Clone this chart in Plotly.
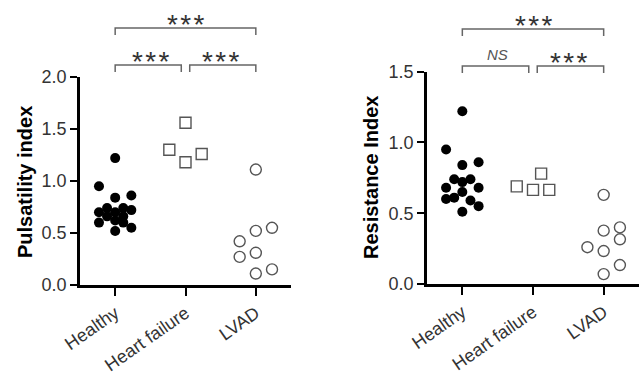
import plotly.graph_objects as go

categories = ["Healthy", "Heart failure", "LVAD"]

# Pulsatility index (left panel)
pi_healthy = [1.22, 0.95, 0.84, 0.86, 0.74, 0.74, 0.72, 0.70, 0.70, 0.66, 0.66, 0.62, 0.60, 0.60, 0.55, 0.52]
pi_healthy_slot = [0, -2, 0, 2, -1, 1, 2, -2, 0, -1, 1, 0, -2, 1, 2, 0]
pi_hf = [1.56, 1.30, 1.18, 1.26]
pi_hf_slot = [0, -2, 0, 2]
pi_lvad = [1.11, 0.42, 0.52, 0.55, 0.27, 0.31, 0.11, 0.15]
pi_lvad_slot = [0, -2, 0, 2, -2, 0, 0, 2]

# Resistance index (right panel)
ri_healthy = [1.22, 0.95, 0.84, 0.86, 0.74, 0.74, 0.72, 0.68, 0.68, 0.65, 0.61, 0.60, 0.59, 0.55, 0.51]
ri_healthy_slot = [0, -2, 0, 2, -1, 1, 0, -2, 2, 0, -1, -2, 1, 2, 0]
ri_hf = [0.69, 0.78, 0.665, 0.665]
ri_hf_slot = [-2, 1, 0, 2]
ri_lvad = [0.63, 0.377, 0.40, 0.316, 0.26, 0.233, 0.134, 0.07]
ri_lvad_slot = [0, 0, 2, 2, -2, 0, 2, 0]

# significance labels: (from, to, label, level)
pi_sig = [(0, 2, "***", "top"), (0, 1, "***", "low"), (1, 2, "***", "low")]
ri_sig = [(0, 2, "***", "top"), (0, 1, "NS", "low"), (1, 2, "***", "low")]

SLOT = 0.115
FONT = "Liberation Sans, Arial, sans-serif"

fig = go.Figure()


def add_group(vals, slots, idx, symbol, filled, xa, ya):
    xs = [idx + s * SLOT for s in slots]
    fig.add_trace(go.Scatter(
        x=xs, y=vals, mode="markers", xaxis=xa, yaxis=ya, cliponaxis=False,
        showlegend=False,
        marker=dict(symbol=symbol, size=10 if filled else 11,
                    color="black" if filled else "white",
                    line=dict(color="black" if filled else "#555", width=0 if filled else 1.4)),
    ))


add_group(pi_healthy, pi_healthy_slot, 0, "circle", True, "x", "y")
add_group(pi_hf, pi_hf_slot, 1, "square", False, "x", "y")
add_group(pi_lvad, pi_lvad_slot, 2, "circle", False, "x", "y")
add_group(ri_healthy, ri_healthy_slot, 0, "circle", True, "x2", "y2")
add_group(ri_hf, ri_hf_slot, 1, "square", False, "x2", "y2")
add_group(ri_lvad, ri_lvad_slot, 2, "circle", False, "x2", "y2")

W, H = 639, 377


def py(p):
    return 1 - p / H


axis_common = dict(showgrid=False, zeroline=False, showline=True, linecolor="black",
                   linewidth=2.5, ticks="outside", tickcolor="black", tickwidth=2,
                   automargin=False,
                   tickfont=dict(family=FONT, size=18, color="#333"))

xcommon = dict(axis_common, range=[-0.5, 2.5], tickvals=[0, 1, 2], ticktext=categories,
               tickangle=-35, ticklen=8, tickfont=dict(family=FONT, size=18, color="#333"))

fig.update_layout(
    width=W, height=H, margin=dict(l=0, r=0, t=0, b=0),
    paper_bgcolor="white", plot_bgcolor="white",
    xaxis=dict(xcommon, domain=[80 / W, 291 / W], anchor="y"),
    yaxis=dict(axis_common, domain=[py(285), py(77)], range=[0, 2.0], tickvals=[0, 0.5, 1.0, 1.5, 2.0],
               ticktext=["0.0", "0.5", "1.0", "1.5", "2.0"], ticklen=7, anchor="x"),
    xaxis2=dict(xcommon, domain=[427 / W, 1.0], anchor="y2"),
    yaxis2=dict(axis_common, domain=[py(284), py(71.7)], range=[0, 1.5], tickvals=[0, 0.5, 1.0, 1.5],
                ticktext=["0.0", "0.5", "1.0", "1.5"], ticklen=7, anchor="x2"),
)

# axis titles
for txt, xp, yp in (("Pulsatility index", 25, 182), ("Resistance Index", 371, 178)):
    fig.add_annotation(x=xp / W, y=py(yp), xref="paper", yref="paper", text=f"<b>{txt}</b>",
                       showarrow=False, textangle=-90, xanchor="center", yanchor="middle",
                       font=dict(family=FONT, size=20, color="black"))

# brackets
LEVELS = {"left": {"top": 28, "low": 65}, "right": {"top": 29, "low": 66}}
GAP = 0.06
STAR = "*\u200a*\u200a*"
for panel, sig, xa in (("left", pi_sig, "x"), ("right", ri_sig, "x2")):
    for a, b, lab, lvl in sig:
        ylev = LEVELS[panel][lvl]
        x0 = a + (GAP if (lvl == "low" and a == 1) else 0)
        x1 = b - (GAP if (lvl == "low" and b == 1) else 0)
        ytop = py(ylev)
        ybot = py(ylev + 7)
        fig.add_shape(type="path", xref=xa, yref="paper",
                      path=f"M {x0},{ybot} L {x0},{ytop} L {x1},{ytop} L {x1},{ybot}",
                      line=dict(color="#666", width=1.5))
        if lab == "NS":
            fig.add_annotation(x=(a + b) / 2, y=ytop, xref=xa, yref="paper", yanchor="bottom",
                               text="<i>NS</i>", showarrow=False, yshift=1,
                               font=dict(family=FONT, size=15, color="#555"))
        else:
            fig.add_annotation(x=(a + b) / 2, y=ytop, xref=xa, yref="paper", yanchor="bottom",
                               text=STAR.replace("***", lab), showarrow=False, yshift=-14,
                               font=dict(family=FONT, size=28, color="#333"))

fig.write_html("out.html", config={"displayModeBar": False},
               post_script="document.body.style.margin='0px';document.body.style.overflow='hidden';")
